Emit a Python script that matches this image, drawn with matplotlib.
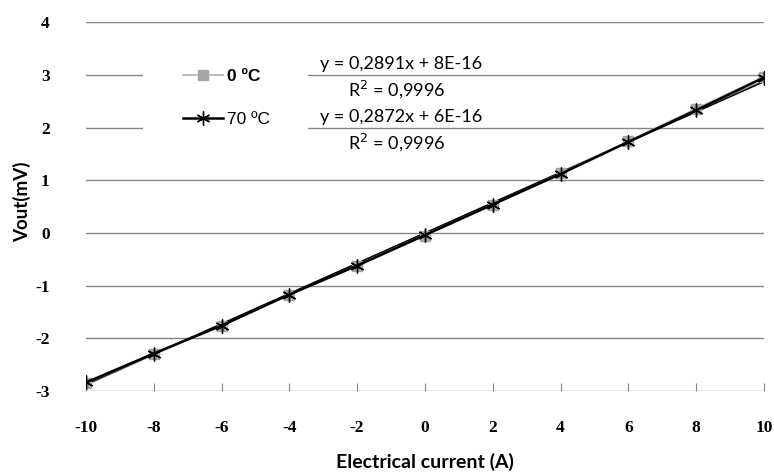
import numpy as np
import matplotlib
matplotlib.use('Agg')
import matplotlib.pyplot as plt
from matplotlib.patches import Rectangle

plt.rcParams['axes.unicode_minus'] = False

# current (A) and output voltage (mV)
corrente = [-10, -8, -6, -4, -2, 0, 2, 4, 6, 8, 10]
vout_0 = [-2.85, -2.29, -1.76, -1.17, -0.63, -0.05, 0.54, 1.13, 1.74, 2.36, 2.97]
vout_70 = [-2.84, -2.29, -1.76, -1.17, -0.62, -0.04, 0.54, 1.12, 1.73, 2.33, 2.95]

# linear trendlines shown in the chart
inclinacoes = [0.2891, 0.2872]
equacoes = ["y = 0,2891x + 8E-16", "y = 0,2872x + 6E-16"]
r2 = ["R$^2$ = 0,9996", "R$^2$ = 0,9996"]

xticks = [-10, -8, -6, -4, -2, 0, 2, 4, 6, 8, 10]
yticks = [-3, -2, -1, 0, 1, 2, 3, 4]

fig = plt.figure(figsize=(7.74, 4.75), dpi=100)
ax = fig.add_axes([0.111, 0.177, 0.876, 0.776])

xs = np.array([corrente[0], corrente[-1]])
ax.plot(xs, inclinacoes[0] * xs, color='#7f7f7f', lw=1.0, zorder=2)
ax.plot(xs, inclinacoes[1] * xs, color='black', lw=1.0, zorder=2)

ax.plot(corrente, vout_0, color='#b0b0b0', lw=1.2, marker='s', ms=7.5,
        mfc='#a6a6a6', mec='#a6a6a6', label='0 ºC', zorder=3)
ax.plot(corrente, vout_70, color='black', lw=1.8, marker=(6, 2, 0), ms=10,
        mec='black', mew=1.0, label='70 ºC', zorder=4)

ax.set_xlim(-10, 10)
ax.set_ylim(-3, 4)
ax.set_xticks(xticks)
ax.set_yticks(yticks)
ax.yaxis.grid(True, color='#868686', lw=1.0)
ax.set_axisbelow(True)
for s in ax.spines.values():
    s.set_visible(False)
ax.tick_params(axis='y', length=0, pad=26)
ax.tick_params(axis='x', direction='in', length=6, color='#868686', pad=21)
for lab in ax.get_xticklabels() + ax.get_yticklabels():
    lab.set_fontfamily('Liberation Serif')
    lab.set_fontweight('bold')
    lab.set_fontsize(12.5)

fig.text(0.029, 0.575, 'Vout(mV)', rotation=90, ha='center', va='center',
         fontsize=13.5, fontweight='bold', family='Lato')
fig.text(0.549, 0.027, 'Electrical current (A)', ha='center', va='center',
         fontsize=14, fontweight='bold', family='Lato')

# white area behind the legend (hides the gridlines there)
ax.add_patch(Rectangle((0.084, 0.68), 0.243, 0.235, transform=ax.transAxes,
                       facecolor='white', edgecolor='none', zorder=1.5))

leg = ax.legend(loc='upper left', bbox_to_anchor=(0.143, 0.874), frameon=False,
                fontsize=12.5, handlelength=2.3, handletextpad=0.25,
                labelspacing=1.62, borderpad=0, borderaxespad=0)
leg.get_texts()[0].set_fontweight('bold')
for t in leg.get_texts():
    t.set_fontfamily('Liberation Sans')

# equation labels in pixel positions of the chart
eq_x = 401 / 774
r2_x = 397 / 774
for i, y_eq in enumerate([64, 117]):
    fig.text(eq_x, 1 - y_eq / 475, equacoes[i], ha='center', va='center',
             fontsize=13, family='Lato')
    fig.text(r2_x, 1 - (y_eq + 25) / 475, r2[i], ha='center', va='center',
             fontsize=13, family='Lato')

fig.savefig('out.png', dpi=100)
